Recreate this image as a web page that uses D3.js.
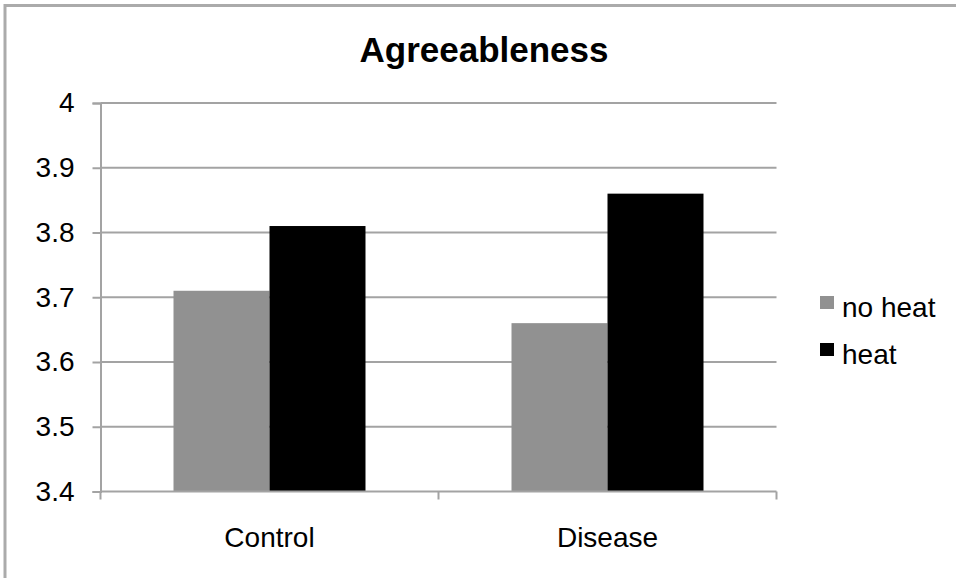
<!DOCTYPE html>
<html>
<head>
<meta charset="utf-8">
<script src="https://cdn.jsdelivr.net/npm/d3@7"></script>
<style>
  html, body { margin: 0; padding: 0; background: #fff; }
  svg { display: block; font-family: "Liberation Sans", Arial, sans-serif; }
</style>
</head>
<body>
<svg id="chart" width="956" height="578"></svg>
<script>
const title = "Agreeableness";
const categories = ["Control", "Disease"];
const seriesNames = ["no heat", "heat"];
const noHeat = [3.71, 3.66];
const heat = [3.81, 3.86];
const yTicks = [3.4, 3.5, 3.6, 3.7, 3.8, 3.9, 4];
const seriesColors = ["#919191", "#000000"];

const svg = d3.select("#chart");
const W = 956, H = 578;
const plot = { left: 100.5, right: 776.5, top: 103, bottom: 491.5 };
const gridColor = "#a3a3a3";

// chart frame
svg.append("path")
  .attr("d", `M5,${H} L5,5.5 L${W},5.5`)
  .attr("fill", "none")
  .attr("stroke", "#ababab")
  .attr("stroke-width", 3);

const y = d3.scaleLinear().domain([3.4, 4]).range([plot.bottom, plot.top]);
const x0 = d3.scaleBand().domain(categories).range([plot.left, plot.right])
  .paddingInner(0.432).paddingOuter(0.216);
const x1 = d3.scaleBand().domain(seriesNames).range([0, x0.bandwidth()]);
const color = d3.scaleOrdinal().domain(seriesNames).range(seriesColors);

// horizontal gridlines
svg.append("g").selectAll("line")
  .data(yTicks.filter(t => t > 3.4))
  .join("line")
  .attr("x1", plot.left).attr("x2", plot.right)
  .attr("y1", d => y(d)).attr("y2", d => y(d))
  .attr("stroke", gridColor).attr("stroke-width", 2);

// y axis
const yAxis = svg.append("g")
  .attr("transform", `translate(${plot.left},0)`)
  .call(d3.axisLeft(y).tickValues(yTicks).tickFormat(d3.format("")).tickSize(8).tickPadding(18));
yAxis.select(".domain").attr("stroke", gridColor).attr("stroke-width", 2);
yAxis.selectAll(".tick line").attr("stroke", gridColor).attr("stroke-width", 2);
yAxis.selectAll(".tick text")
  .attr("fill", "#000")
  .style("font-size", "28px")
  .style("font-family", "'Liberation Sans', Arial, sans-serif");

// bars
const rows = categories.map((c, i) => ({ cat: c, values: [noHeat[i], heat[i]] }));
const groups = svg.append("g").selectAll("g")
  .data(rows)
  .join("g")
  .attr("transform", d => `translate(${x0(d.cat)},0)`);
groups.selectAll("rect")
  .data(d => d.values.map((v, j) => ({ key: seriesNames[j], value: v })))
  .join("rect")
  .attr("x", d => x1(d.key))
  .attr("width", x1.bandwidth())
  .attr("y", d => y(d.value))
  .attr("height", d => y(3.4) - y(d.value))
  .attr("fill", d => color(d.key));

// x axis
const xEdges = [plot.left, (plot.left + plot.right) / 2, plot.right];
svg.append("line")
  .attr("x1", plot.left).attr("x2", plot.right)
  .attr("y1", plot.bottom).attr("y2", plot.bottom)
  .attr("stroke", gridColor).attr("stroke-width", 2);
svg.append("g").selectAll("line")
  .data(xEdges)
  .join("line")
  .attr("x1", d => d).attr("x2", d => d)
  .attr("y1", plot.bottom).attr("y2", plot.bottom + 8)
  .attr("stroke", gridColor).attr("stroke-width", 2);
svg.append("g").selectAll("text")
  .data(categories)
  .join("text")
  .attr("x", d => x0(d) + x0.bandwidth() / 2)
  .attr("y", 547)
  .attr("text-anchor", "middle")
  .style("font-size", "28px")
  .text(d => d);

// title
svg.append("text")
  .attr("x", 484)
  .attr("y", 62)
  .attr("text-anchor", "middle")
  .style("font-size", "35px")
  .style("font-weight", "bold")
  .text(title);

// legend
const legend = svg.append("g").selectAll("g")
  .data(seriesNames)
  .join("g")
  .attr("transform", (d, i) => `translate(820,${296 + i * 47})`);
legend.append("rect")
  .attr("width", 14).attr("height", 13)
  .attr("fill", d => color(d));
legend.append("text")
  .attr("x", 22).attr("y", 20.5)
  .style("font-size", "28px")
  .text(d => d);
</script>
</body>
</html>
